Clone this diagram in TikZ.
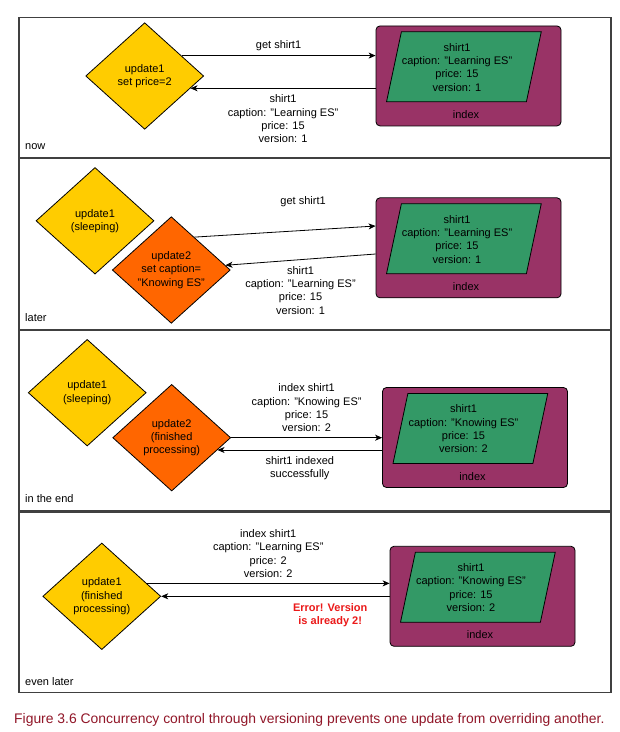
\documentclass[tikz,border=0pt]{standalone}
\usepackage{fontspec}
\setmainfont{Liberation Sans}
\usetikzlibrary{shapes.geometric, arrows.meta, positioning}

\definecolor{updyellow}{RGB}{255,204,0}
\definecolor{updorange}{RGB}{255,102,0}
\definecolor{idxpurple}{RGB}{153,51,102}
\definecolor{docgreen}{RGB}{51,153,102}
\definecolor{errred}{RGB}{235,25,25}
\definecolor{capred}{RGB}{145,22,40}

\tikzstyle{panel} = [draw=black!75, line width=1.2pt]
\tikzstyle{tag} = [anchor=west, inner sep=0pt]
\tikzstyle{update} = [diamond, minimum width=118pt, minimum height=106.6pt, inner sep=0pt, align=center, draw=black, line width=0.8pt, fill=updyellow]
\tikzstyle{updatelate} = [update, fill=updorange]
\tikzstyle{indexbox} = [rectangle, rounded corners=4pt, minimum width=185pt, minimum height=100pt, draw=black, line width=0.8pt, fill=idxpurple]
\tikzstyle{doc} = [trapezium, trapezium left angle=78, trapezium right angle=102, inner xsep=62.5pt, inner ysep=35pt, draw=black, line width=0.8pt, fill=docgreen]
\tikzstyle{doctext} = [align=center, inner sep=0pt]
\tikzstyle{msg} = [align=center]
\tikzstyle{err} = [align=center, text=errred, font=\fontsize{11}{13.3}\selectfont\bfseries]
\tikzstyle{arrow} = [->, >={Stealth[length=7pt,width=6pt,inset=2pt]}, line width=0.8pt]

\begin{document}
\begin{tikzpicture}[x=1pt, y=-1pt, font=\fontsize{11}{13.3}\selectfont]

    \fill[white] (0,0) rectangle (620,732);
    \useasboundingbox (0,0) rectangle (620,732);

    % panels
    \draw [panel] (19,17.5)  rectangle (611,157.5);
    \draw [panel] (19,158.5) rectangle (611,329.5);
    \draw [panel] (19,330.5) rectangle (611,511);
    \draw [panel] (19,512)   rectangle (611,692.7);

    \node (now)      [tag] at (25,146.7) {now};
    \node (later)    [tag] at (25,317.7) {later};
    \node (intheend) [tag] at (25,499)   {in the end};
    \node (evenlater)[tag] at (25,681.7) {even later};

    % now
    \node (upd1a)  [update]   at (144.7,76)   {update1\\set price=2};
    \node (idx1)   [indexbox] at (468.5,75.9) {};
    \node (doc1)   [doc]      at ([shift={(-4.6,-9.1)}]idx1.center)  {};
    \node (shirt1) [doctext]  at ([shift={(-11.5,-8.6)}]idx1.center) {shirt1\\caption: "Learning ES"\\price: 15\\version: 1};
    \node (name1)             at ([shift={(-2.5,38.7)}]idx1.center)  {index};

    \draw [arrow] (upd1a.29) -- node[msg, above=1.5pt] {get shirt1} (upd1a.29 -| idx1.west);
    \draw [arrow] (upd1a.-15 -| idx1.west) -- node[msg, below=3pt] {shirt1\\caption: "Learning ES"\\price: 15\\version: 1} (upd1a.-15);

    % later
    \node (upd1b)  [update]     at (95,220.8)   {update1\\(sleeping)};
    \node (upd2b)  [updatelate] at (171.3,270)  {update2\\set caption=\\"Knowing ES"};
    \node (idx2)   [indexbox]   at (468.5,247.8) {};
    \node (doc2)   [doc]        at ([shift={(-4.6,-9.1)}]idx2.center)  {};
    \node (shirt2) [doctext]    at ([shift={(-11.5,-8.6)}]idx2.center) {shirt1\\caption: "Learning ES"\\price: 15\\version: 1};
    \node (name2)               at ([shift={(-2.5,38.7)}]idx2.center)  {index};

    \draw [arrow] (upd2b.55) -- node[msg, above=20pt, pos=0.6] {get shirt1} ([yshift=21.8pt]idx2.west);
    \draw [arrow] ([yshift=-6.2pt]idx2.west) -- node[msg, below=3pt] {shirt1\\caption: "Learning ES"\\price: 15\\version: 1} (upd2b.5);

    % in the end
    \node (upd1c)  [update]     at (87.2,392.7)  {update1\\(sleeping)};
    \node (upd2c)  [updatelate] at (171.7,437.7) {update2\\(finished\\processing)};
    \node (idx3)   [indexbox]   at (475,437.5)   {};
    \node (doc3)   [doc]        at ([shift={(-4.6,-9.1)}]idx3.center)  {};
    \node (shirt3) [doctext]    at ([shift={(-11.5,-8.6)}]idx3.center) {shirt1\\caption: "Knowing ES"\\price: 15\\version: 2};
    \node (name3)               at ([shift={(-2.5,38.7)}]idx3.center)  {index};

    \draw [arrow] (upd2c.east) -- node[msg, above=2pt] {index shirt1\\caption: "Knowing ES"\\price: 15\\version: 2} (upd2c.east -| idx3.west);
    \draw [arrow] (upd2c.-15 -| idx3.west) -- node[msg, below=3pt] {shirt1 indexed\\successfully} (upd2c.-15);

    % even later
    \node (upd1d)  [update]   at (101.8,596.3) {update1\\(finished\\processing)};
    \node (idx4)   [indexbox] at (482.5,596.3) {};
    \node (doc4)   [doc]      at ([shift={(-4.6,-9.1)}]idx4.center)  {};
    \node (shirt4) [doctext]  at ([shift={(-11.5,-8.6)}]idx4.center) {shirt1\\caption: "Knowing ES"\\price: 15\\version: 2};
    \node (name4)             at ([shift={(-2.5,38.7)}]idx4.center)  {index};

    \draw [arrow] (upd1d.16) -- node[msg, above=2pt] {index shirt1\\caption: "Learning ES"\\price: 2\\version: 2} (upd1d.16 -| idx4.west);
    \draw [arrow] (idx4.west) -- node[err, below=3pt, pos=0.26] {Error! Version\\is already 2!} (upd1d.east);

    \node (caption) [anchor=base west, inner sep=0pt, text=capred, font=\fontsize{13.9}{16}\selectfont] at (14,723.3) {Figure 3.6 Concurrency control through versioning prevents one update from overriding another.};

\end{tikzpicture}
\end{document}
